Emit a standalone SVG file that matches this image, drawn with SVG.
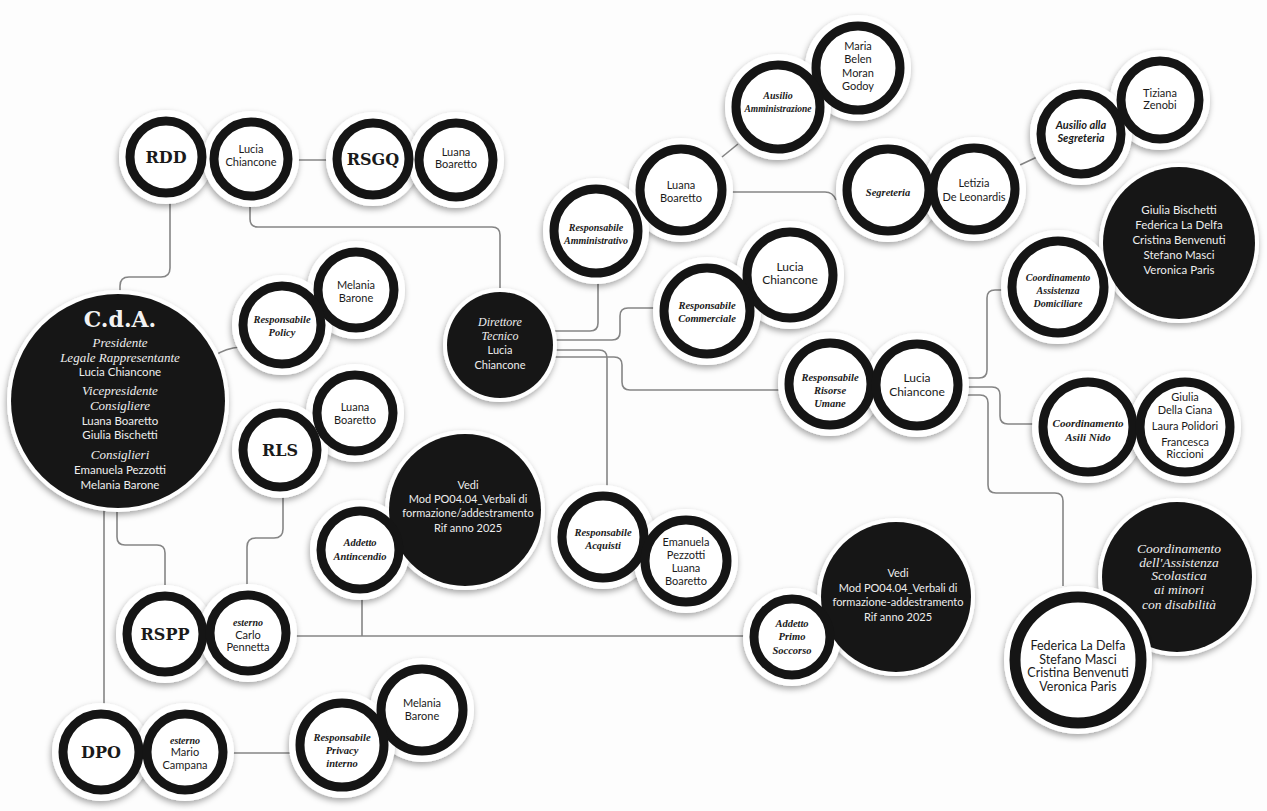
<svg xmlns="http://www.w3.org/2000/svg" width="1267" height="811" viewBox="0 0 1267 811">
<defs>
<filter id="sh" x="-30%" y="-30%" width="160%" height="160%">
<feDropShadow dx="-1" dy="3" stdDeviation="3" flood-color="#000" flood-opacity="0.35"/>
</filter>
</defs>
<style>
.halo{fill:#fff;filter:url(#sh)}
.ring{fill:#fff;stroke:#151515;stroke-width:9}
.dark{fill:#161616}
.con{fill:none;stroke:#858585;stroke-width:1.6}
text{text-anchor:middle;fill:#1a1a1a}
.ab{font-family:"DejaVu Serif",serif;font-weight:bold;font-size:16px}
.nm{font-family:Lato,"Noto Sans",sans-serif;font-size:11px}
.rl{font-family:"Liberation Serif",serif;font-style:italic;font-weight:bold;font-size:10.5px}
.rs{font-family:Lato,"Noto Sans",sans-serif;font-style:italic;font-weight:bold;font-size:11px}
.wi{font-family:"Liberation Serif",serif;font-style:italic;font-size:13px;fill:#eee}
.wn{font-family:Lato,"Noto Sans",sans-serif;font-size:11.5px;fill:#eee}
</style>
<rect width="1267" height="811" fill="#fdfdfd"/>

<g id="connectors">
<path class="con" d="M292 160 H334"/>
<path class="con" d="M170 197 V268 Q170 277 161 277 H129 Q120 277 120 286 V296"/>
<path class="con" d="M250 200 V219 Q250 227 258 227 H492 Q500 227 500 235 V292"/>
<path class="con" d="M214 356 Q226 348 240 347"/>
<path class="con" d="M117 505 V537 Q117 545 125 545 H157 Q165 545 165 553 V590"/>
<path class="con" d="M104 505 V708"/>
<path class="con" d="M283 491 V529 Q283 538 274 538 H256 Q247 538 247 547 V589"/>
<path class="con" d="M292 636 H750"/>
<path class="con" d="M362 594 V636"/>
<path class="con" d="M228 753 H296"/>
<path class="con" d="M552 331 H590 Q598 331 598 323 V277"/>
<path class="con" d="M553 340 H612 Q620 340 620 332 V316 Q620 308 628 308 H660"/>
<path class="con" d="M553 350 H599 Q607 350 607 358 V491"/>
<path class="con" d="M553 357 H614 Q622 357 622 365 V382 Q622 390 630 390 H785"/>
<path class="con" d="M722 157 L738 144"/>
<path class="con" d="M728 192 H825 Q833 192 836 200"/>
<path class="con" d="M1020 165 L1037 157"/>
<path class="con" d="M962 378 H979 Q987 378 987 370 V298 Q987 290 995 290 H1008"/>
<path class="con" d="M962 387 H992 Q1000 387 1000 395 V416 Q1000 424 1008 424 H1039"/>
<path class="con" d="M962 395 H980 Q988 395 988 403 V485 Q988 493 996 493 H1055 Q1063 493 1063 501 V586"/>
</g>

<g id="rdd">
<circle class="halo" cx="166" cy="157" r="47"/><circle class="halo" cx="251" cy="159" r="48"/>
<circle class="ring" cx="166" cy="157" r="36"/><circle class="ring" cx="251" cy="159" r="37"/>
<text class="ab" x="166" y="163">RDD</text>
<text class="nm" x="251" y="153">Lucia</text><text class="nm" x="251" y="166">Chiancone</text>
</g>

<g id="rsgq">
<circle class="halo" cx="373" cy="159" r="47"/><circle class="halo" cx="456" cy="160" r="48"/>
<circle class="ring" cx="373" cy="159" r="36"/><circle class="ring" cx="456" cy="160" r="37"/>
<text class="ab" x="373" y="165">RSGQ</text>
<text class="nm" x="456" y="156">Luana</text><text class="nm" x="456" y="168">Boaretto</text>
</g>

<g id="cda">
<circle class="halo" cx="118" cy="401" r="111"/>
<circle class="dark" cx="118" cy="401" r="107"/>
<text x="120" y="327" style="font-family:'DejaVu Serif',serif;font-weight:bold;font-size:22px;fill:#f2f2f2">C.d.A.</text>
<text class="wi" x="120" y="347">Presidente</text>
<text class="wi" x="120" y="362">Legale Rappresentante</text>
<text class="wn" x="120" y="376">Lucia Chiancone</text>
<text class="wi" x="120" y="395">Vicepresidente</text>
<text class="wi" x="120" y="410">Consigliere</text>
<text class="wn" x="120" y="425">Luana Boaretto</text>
<text class="wn" x="120" y="439">Giulia Bischetti</text>
<text class="wi" x="120" y="459">Consiglieri</text>
<text class="wn" x="120" y="474">Emanuela Pezzotti</text>
<text class="wn" x="120" y="489">Melania Barone</text>
</g>

<g id="policy">
<circle class="halo" cx="356" cy="290" r="49"/><circle class="halo" cx="282" cy="325" r="50"/>
<circle class="ring" cx="356" cy="290" r="38"/><circle class="ring" cx="282" cy="325" r="39"/>
<text class="rl" x="282" y="323">Responsabile</text><text class="rl" x="282" y="336">Policy</text>
<text class="nm" x="356" y="289">Melania</text><text class="nm" x="356" y="302">Barone</text>
</g>

<g id="rls">
<circle class="halo" cx="355" cy="413" r="49"/><circle class="halo" cx="280" cy="450" r="48"/>
<circle class="ring" cx="355" cy="413" r="38"/><circle class="ring" cx="280" cy="450" r="37"/>
<text class="ab" x="280" y="456">RLS</text>
<text class="nm" x="355" y="411">Luana</text><text class="nm" x="355" y="424">Boaretto</text>
</g>

<g id="direttore">
<circle class="halo" cx="500" cy="345" r="57"/>
<circle class="dark" cx="500" cy="345" r="53"/>
<text class="wi" x="500" y="326" style="font-size:12px">Direttore</text>
<text class="wi" x="500" y="340" style="font-size:12px">Tecnico</text>
<text class="wn" x="500" y="354" style="font-size:11px">Lucia</text>
<text class="wn" x="500" y="369" style="font-size:11px">Chiancone</text>
</g>

<g id="antincendio">
<circle class="halo" cx="465" cy="510" r="80"/><circle class="halo" cx="360" cy="550" r="50"/>
<circle class="dark" cx="465" cy="510" r="76"/>
<circle class="ring" cx="360" cy="550" r="39"/>
<text class="rl" x="360" y="546">Addetto</text><text class="rl" x="360" y="560">Antincendio</text>
<text class="wn" x="468" y="489" style="font-size:11px">Vedi</text>
<text class="wn" x="468" y="503" style="font-size:11px">Mod PO04.04_Verbali di</text>
<text class="wn" x="468" y="517" style="font-size:11px">formazione/addestramento</text>
<text class="wn" x="468" y="532" style="font-size:11px">Rif anno 2025</text>
</g>

<g id="rspp">
<circle class="halo" cx="165" cy="634" r="49"/><circle class="halo" cx="248" cy="633" r="49"/>
<circle class="ring" cx="165" cy="634" r="38"/><circle class="ring" cx="248" cy="633" r="38"/>
<text class="ab" x="165" y="640">RSPP</text>
<text class="rl" x="248" y="626" style="font-size:10px">esterno</text>
<text class="nm" x="248" y="639">Carlo</text><text class="nm" x="248" y="651">Pennetta</text>
</g>

<g id="dpo">
<circle class="halo" cx="101" cy="752" r="49"/><circle class="halo" cx="185" cy="752" r="49"/>
<circle class="ring" cx="101" cy="752" r="38"/><circle class="ring" cx="185" cy="752" r="38"/>
<text class="ab" x="101" y="758">DPO</text>
<text class="rl" x="185" y="744" style="font-size:10px">esterno</text>
<text class="nm" x="185" y="756">Mario</text><text class="nm" x="185" y="769">Campana</text>
</g>

<g id="privacy">
<circle class="halo" cx="422" cy="710" r="52"/><circle class="halo" cx="342" cy="745" r="53"/>
<circle class="ring" cx="422" cy="710" r="41"/><circle class="ring" cx="342" cy="745" r="42"/>
<text class="rl" x="342" y="741">Responsabile</text><text class="rl" x="342" y="754">Privacy</text><text class="rl" x="342" y="767">interno</text>
<text class="nm" x="422" y="707">Melania</text><text class="nm" x="422" y="720">Barone</text>
</g>

<g id="acquisti">
<circle class="halo" cx="603" cy="537" r="52"/><circle class="halo" cx="686" cy="561" r="52"/>
<circle class="ring" cx="603" cy="537" r="41"/><circle class="ring" cx="686" cy="561" r="41"/>
<text class="rl" x="603" y="536">Responsabile</text><text class="rl" x="603" y="549">Acquisti</text>
<text class="nm" x="686" y="546">Emanuela</text><text class="nm" x="686" y="559">Pezzotti</text>
<text class="nm" x="686" y="572">Luana</text><text class="nm" x="686" y="585">Boaretto</text>
</g>

<g id="primo-soccorso">
<circle class="halo" cx="896" cy="597" r="79"/><circle class="halo" cx="792" cy="637" r="49"/>
<circle class="dark" cx="896" cy="597" r="75"/>
<circle class="ring" cx="792" cy="637" r="38"/>
<text class="rl" x="792" y="627">Addetto</text><text class="rl" x="792" y="640">Primo</text><text class="rl" x="792" y="654">Soccorso</text>
<text class="wn" x="898" y="577" style="font-size:11px">Vedi</text>
<text class="wn" x="898" y="592" style="font-size:11px">Mod PO04.04_Verbali di</text>
<text class="wn" x="898" y="606" style="font-size:11px">formazione-addestramento</text>
<text class="wn" x="898" y="621" style="font-size:11px">Rif anno 2025</text>
</g>

<g id="amministrativo">
<circle class="halo" cx="681" cy="190" r="52"/><circle class="halo" cx="596" cy="231" r="53"/>
<circle class="ring" cx="681" cy="190" r="41"/><circle class="ring" cx="596" cy="231" r="42"/>
<text class="rl" x="596" y="231" style="font-size:10px">Responsabile</text><text class="rl" x="596" y="244" style="font-size:10px">Amministrativo</text>
<text class="nm" x="681" y="189">Luana</text><text class="nm" x="681" y="202">Boaretto</text>
</g>

<g id="ausilio-amministrazione">
<circle class="halo" cx="858" cy="68" r="53"/><circle class="halo" cx="778" cy="107" r="53"/>
<circle class="ring" cx="858" cy="68" r="42"/><circle class="ring" cx="778" cy="107" r="42"/>
<text class="rl" x="778" y="99" style="font-size:10px">Ausilio</text><text class="rl" x="778" y="112" style="font-size:9.5px">Amministrazione</text>
<text class="nm" x="858" y="50">Maria</text><text class="nm" x="858" y="63">Belen</text>
<text class="nm" x="858" y="77">Moran</text><text class="nm" x="858" y="90">Godoy</text>
</g>

<g id="segreteria">
<circle class="halo" cx="888" cy="190" r="52"/><circle class="halo" cx="974" cy="189" r="52"/>
<circle class="ring" cx="888" cy="190" r="41"/><circle class="ring" cx="974" cy="189" r="41"/>
<text class="rl" x="888" y="196">Segreteria</text>
<text class="nm" x="974" y="187">Letizia</text><text class="nm" x="974" y="201">De Leonardis</text>
</g>

<g id="ausilio-segreteria">
<circle class="halo" cx="1160" cy="100" r="50"/><circle class="halo" cx="1081" cy="134" r="51"/>
<circle class="ring" cx="1160" cy="100" r="39"/><circle class="ring" cx="1081" cy="134" r="40"/>
<text class="rs" x="1081" y="129">Ausilio alla</text><text class="rs" x="1081" y="142">Segreteria</text>
<text class="nm" x="1160" y="97">Tiziana</text><text class="nm" x="1160" y="109">Zenobi</text>
</g>

<g id="commerciale">
<circle class="halo" cx="790" cy="275" r="54"/><circle class="halo" cx="707" cy="311" r="54"/>
<circle class="ring" cx="790" cy="275" r="43"/><circle class="ring" cx="707" cy="311" r="43"/>
<text class="rl" x="707" y="309">Responsabile</text><text class="rl" x="707" y="322">Commerciale</text>
<text class="nm" x="790" y="271" style="font-size:12px">Lucia</text><text class="nm" x="790" y="284" style="font-size:12px">Chiancone</text>
</g>

<g id="assistenza-domiciliare">
<circle class="halo" cx="1179" cy="243" r="80"/><circle class="halo" cx="1058" cy="287" r="57"/>
<circle class="dark" cx="1179" cy="243" r="76"/>
<circle class="ring" cx="1058" cy="287" r="46"/>
<text class="rl" x="1058" y="281" style="font-size:10px">Coordinamento</text><text class="rl" x="1058" y="294" style="font-size:10px">Assistenza</text><text class="rl" x="1058" y="307" style="font-size:10px">Domiciliare</text>
<text class="wn" x="1179" y="214">Giulia Bischetti</text>
<text class="wn" x="1179" y="229">Federica La Delfa</text>
<text class="wn" x="1179" y="244">Cristina Benvenuti</text>
<text class="wn" x="1179" y="259">Stefano Masci</text>
<text class="wn" x="1179" y="274">Veronica Paris</text>
</g>

<g id="risorse-umane">
<circle class="halo" cx="830" cy="384" r="52"/><circle class="halo" cx="917" cy="385" r="52"/>
<circle class="ring" cx="830" cy="384" r="41"/><circle class="ring" cx="917" cy="385" r="41"/>
<text class="rl" x="830" y="381">Responsabile</text><text class="rl" x="830" y="394">Risorse</text><text class="rl" x="830" y="407">Umane</text>
<text class="nm" x="917" y="382" style="font-size:12px">Lucia</text><text class="nm" x="917" y="396" style="font-size:12px">Chiancone</text>
</g>

<g id="asili-nido">
<circle class="halo" cx="1088" cy="427" r="56"/><circle class="halo" cx="1185" cy="427" r="56"/>
<circle class="ring" cx="1088" cy="427" r="45"/><circle class="ring" cx="1185" cy="427" r="45"/>
<text class="rl" x="1088" y="427" style="font-size:11px">Coordinamento</text><text class="rl" x="1088" y="441" style="font-size:11px">Asili Nido</text>
<text class="nm" x="1185" y="401">Giulia</text><text class="nm" x="1185" y="414">Della Ciana</text>
<text class="nm" x="1185" y="430">Laura Polidori</text>
<text class="nm" x="1185" y="446">Francesca</text><text class="nm" x="1185" y="458">Riccioni</text>
</g>

<g id="assistenza-scolastica">
<circle class="halo" cx="1177" cy="577" r="79"/>
<circle class="dark" cx="1177" cy="577" r="75"/>
<circle class="halo" cx="1078" cy="660" r="74"/>
<circle class="ring" cx="1078" cy="660" r="63" style="stroke-width:11"/>
<text class="wi" x="1179" y="553" style="font-size:13.5px">Coordinamento</text>
<text class="wi" x="1179" y="567" style="font-size:13.5px">dell'Assistenza</text>
<text class="wi" x="1179" y="580" style="font-size:13.5px">Scolastica</text>
<text class="wi" x="1179" y="594" style="font-size:13.5px">ai minori</text>
<text class="wi" x="1179" y="609" style="font-size:13.5px">con disabilità</text>
<text class="nm" x="1078" y="650" style="font-size:12.5px">Federica La Delfa</text>
<text class="nm" x="1078" y="664" style="font-size:12.5px">Stefano Masci</text>
<text class="nm" x="1078" y="677" style="font-size:12.5px">Cristina Benvenuti</text>
<text class="nm" x="1078" y="691" style="font-size:12.5px">Veronica Paris</text>
</g>
</svg>
